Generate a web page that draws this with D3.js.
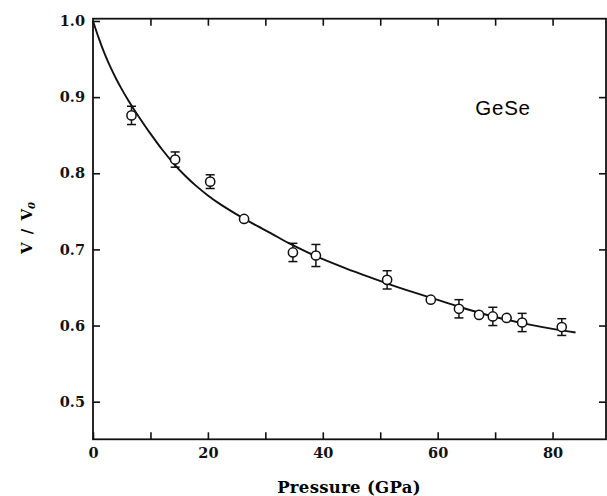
<!DOCTYPE html>
<html>
<head>
<meta charset="utf-8">
<script src="https://cdn.jsdelivr.net/npm/d3@7/dist/d3.min.js"></script>
<style>
  body { margin: 0; background: #fff; }
  svg { display: block; }
  .axis text { font-family: "DejaVu Serif", serif; font-weight: bold; font-size: 14.5px; fill: #111; }
  .axis path, .axis line { stroke: #111; }
</style>
</head>
<body>
<svg id="chart" width="607" height="496"></svg>
<script>
// measured points (GPa, V/V0) and error half-widths (0 = no bar)
const pressure = [6.7, 14.3, 20.4, 26.3, 34.8, 38.8, 51.2, 58.8, 63.7, 67.2, 69.6, 72.0, 74.7, 81.6];
const volume   = [0.876, 0.818, 0.789, 0.740, 0.696, 0.692, 0.660, 0.634, 0.622, 0.614, 0.612, 0.610, 0.604, 0.598];
const errHalf  = [0.012, 0.010, 0.009, 0, 0.012, 0.0145, 0.012, 0, 0.012, 0, 0.012, 0, 0.012, 0.011];

// fitted curve
const fitPressure = [0, 1, 2, 3, 4, 5, 6, 7, 8, 10, 12, 14, 16, 18, 20, 22, 25, 28, 31, 34, 37, 40, 44, 48, 52, 56, 60, 64, 68, 72, 76, 80, 84];
const fitVolume   = [1.000, 0.9775, 0.9575, 0.940, 0.9245, 0.9105, 0.8975, 0.8855, 0.874, 0.852, 0.8315, 0.8131, 0.7971, 0.7831, 0.7709, 0.7601, 0.746, 0.7331, 0.7211, 0.7085, 0.6974, 0.6872, 0.6752, 0.664, 0.6532, 0.6432, 0.6336, 0.624, 0.6152, 0.6076, 0.6012, 0.5956, 0.5908];

const xTicks = [0, 10, 20, 30, 40, 50, 60, 70, 80];
const yTicks = [0.5, 0.6, 0.7, 0.8, 0.9, 1.0];

const box = {left: 93, right: 606, top: 18.7, bottom: 439.3};

const svg = d3.select("#chart");

const x = d3.scaleLinear().domain([0, 89.3]).range([box.left, box.right]);
const y = d3.scaleLinear().domain([0.4506, 1.003]).range([box.bottom, box.top]);

// frame
svg.append("rect")
  .attr("x", box.left).attr("y", box.top)
  .attr("width", box.right - box.left).attr("height", box.bottom - box.top)
  .attr("fill", "none").attr("stroke", "#111").attr("stroke-width", 1.8);

// bottom axis
svg.append("g").attr("class", "axis")
  .attr("transform", "translate(0," + box.bottom + ")")
  .call(d3.axisBottom(x).tickValues(xTicks).tickSizeInner(-7).tickSizeOuter(0).tickPadding(8)
    .tickFormat(d => d % 20 === 0 ? d : ""))
  .call(g => g.select(".domain").remove())
  .call(g => g.selectAll(".tick line").attr("stroke-width", 1.6));

// top axis ticks
svg.append("g").attr("class", "axis")
  .attr("transform", "translate(0," + box.top + ")")
  .call(d3.axisTop(x).tickValues(xTicks.slice(1)).tickSizeInner(-7).tickSizeOuter(0).tickFormat(""))
  .call(g => g.select(".domain").remove())
  .call(g => g.selectAll(".tick line").attr("stroke-width", 1.6));

// left axis
svg.append("g").attr("class", "axis")
  .attr("transform", "translate(" + box.left + ",0)")
  .call(d3.axisLeft(y).tickValues(yTicks).tickSizeInner(-7).tickSizeOuter(0).tickPadding(8)
    .tickFormat(d3.format(".1f")))
  .call(g => g.select(".domain").remove())
  .call(g => g.selectAll(".tick line").attr("stroke-width", 1.6));

// right axis ticks
svg.append("g").attr("class", "axis")
  .attr("transform", "translate(" + box.right + ",0)")
  .call(d3.axisRight(y).tickValues(yTicks.slice(0, 5)).tickSizeInner(-7).tickSizeOuter(0).tickFormat(""))
  .call(g => g.select(".domain").remove())
  .call(g => g.selectAll(".tick line").attr("stroke-width", 1.6));

// fitted curve
const fit = fitPressure.map((p, i) => ({p: p, v: fitVolume[i]}));
svg.append("path")
  .datum(fit)
  .attr("fill", "none").attr("stroke", "#111").attr("stroke-width", 1.9)
  .attr("d", d3.line().x(d => x(d.p)).y(d => y(d.v)).curve(d3.curveCatmullRom.alpha(0.5)));

// points with error bars
const pts = pressure.map((p, i) => ({p: p, v: volume[i], e: errHalf[i]}));
const cap = 4.5;
const g = svg.append("g").attr("stroke", "#111").attr("stroke-width", 1.5);
pts.filter(d => d.e > 0).forEach(d => {
  const cx = x(d.p), y1 = y(d.v + d.e), y2 = y(d.v - d.e);
  g.append("line").attr("x1", cx).attr("x2", cx).attr("y1", y1).attr("y2", y2);
  g.append("line").attr("x1", cx - cap).attr("x2", cx + cap).attr("y1", y1).attr("y2", y1);
  g.append("line").attr("x1", cx - cap).attr("x2", cx + cap).attr("y1", y2).attr("y2", y2);
});
g.selectAll("circle")
  .data(pts)
  .enter()
  .append("circle")
  .attr("cx", d => x(d.p))
  .attr("cy", d => y(d.v))
  .attr("r", 4.6)
  .attr("fill", "#fff");

// labels
svg.append("text")
  .attr("x", 349).attr("y", 493)
  .attr("text-anchor", "middle")
  .style("font-family", "DejaVu Serif, serif").style("font-weight", "bold").style("font-size", "16.5px")
  .style("letter-spacing", "0.3px")
  .text("Pressure (GPa)");

const yl = svg.append("text")
  .attr("transform", "translate(32,228) rotate(-90)")
  .attr("text-anchor", "middle")
  .style("font-family", "DejaVu Serif, serif").style("font-weight", "bold").style("font-size", "15px")
  .style("word-spacing", "3px");
yl.append("tspan").text("V / V");
yl.append("tspan").attr("dy", 3).style("font-size", "10px").style("font-style", "italic").text("0");

svg.append("text")
  .attr("x", 503).attr("y", 115)
  .attr("text-anchor", "middle")
  .style("font-family", "Liberation Sans, Arial, sans-serif").style("font-size", "20.5px")
  .style("letter-spacing", "0.8px")
  .text("GeSe");
</script>
</body>
</html>
